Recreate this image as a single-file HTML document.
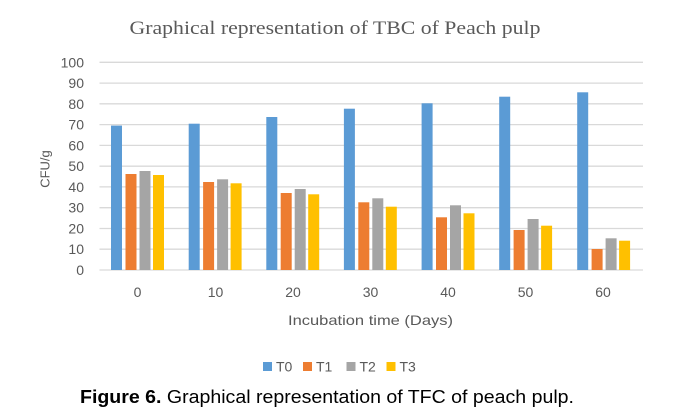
<!DOCTYPE html>
<html><head><meta charset="utf-8"><style>
html,body{margin:0;padding:0;background:#fff;}
svg{display:block;}
</style></head><body>
<svg width="685" height="417" viewBox="0 0 685 417" xmlns="http://www.w3.org/2000/svg">
<rect width="685" height="417" fill="#fff"/>
<text x="335" y="34" text-anchor="middle" font-family="Liberation Serif, serif" font-size="19" fill="#595959" textLength="411" lengthAdjust="spacingAndGlyphs">Graphical representation of TBC of Peach pulp</text>
<g stroke="#d9d9d9" stroke-width="1.3">
<line x1="99.5" x2="643" y1="62.3" y2="62.3"/>
<line x1="99.5" x2="643" y1="83.1" y2="83.1"/>
<line x1="99.5" x2="643" y1="103.8" y2="103.8"/>
<line x1="99.5" x2="643" y1="124.6" y2="124.6"/>
<line x1="99.5" x2="643" y1="145.4" y2="145.4"/>
<line x1="99.5" x2="643" y1="166.2" y2="166.2"/>
<line x1="99.5" x2="643" y1="186.9" y2="186.9"/>
<line x1="99.5" x2="643" y1="207.7" y2="207.7"/>
<line x1="99.5" x2="643" y1="228.5" y2="228.5"/>
<line x1="99.5" x2="643" y1="249.2" y2="249.2"/>
<line x1="99.5" x2="643" y1="270" y2="270"/>
</g>
<g font-family="Liberation Sans, sans-serif" font-size="14" fill="#595959" text-anchor="end">
<text x="84" y="67.3">100</text>
<text x="84" y="88.1">90</text>
<text x="84" y="108.8">80</text>
<text x="84" y="129.6">70</text>
<text x="84" y="150.4">60</text>
<text x="84" y="171.2">50</text>
<text x="84" y="191.9">40</text>
<text x="84" y="212.7">30</text>
<text x="84" y="233.5">20</text>
<text x="84" y="254.2">10</text>
<text x="84" y="275">0</text>
</g>
<text transform="translate(49.5,169) rotate(-90)" text-anchor="middle" font-family="Liberation Sans, sans-serif" font-size="13" fill="#595959">CFU/g</text>
<g font-family="Liberation Sans, sans-serif" font-size="14" fill="#595959" text-anchor="middle">
<text x="137.5" y="297">0</text>
<text x="215.5" y="297">10</text>
<text x="293" y="297">20</text>
<text x="370.5" y="297">30</text>
<text x="448" y="297">40</text>
<text x="525.5" y="297">50</text>
<text x="603" y="297">60</text>
</g>
<text x="370.5" y="325" text-anchor="middle" font-family="Liberation Sans, sans-serif" font-size="14" fill="#595959" textLength="165" lengthAdjust="spacingAndGlyphs">Incubation time (Days)</text>
<g font-family="Liberation Sans, sans-serif" font-size="14" fill="#595959">
<rect x="263" y="362" width="9" height="9" fill="#5B9BD5"/><text x="276" y="371.5">T0</text>
<rect x="303" y="362" width="9" height="9" fill="#ED7D31"/><text x="316" y="371.5">T1</text>
<rect x="346.5" y="362" width="9" height="9" fill="#A5A5A5"/><text x="359.5" y="371.5">T2</text>
<rect x="386.5" y="362" width="9" height="9" fill="#FFC000"/><text x="399.5" y="371.5">T3</text>
</g>
<text x="80" y="403" font-family="Liberation Sans, sans-serif" font-size="18" fill="#000" textLength="494" lengthAdjust="spacingAndGlyphs"><tspan font-weight="bold">Figure 6.</tspan> Graphical representation of TFC of peach pulp.</text>
<g>
<rect x="111" y="125.6" width="11" height="144.4" fill="#5B9BD5"/>
<rect x="125.5" y="174" width="11" height="96" fill="#ED7D31"/>
<rect x="139.5" y="171" width="11" height="99" fill="#A5A5A5"/>
<rect x="153" y="175" width="11" height="95" fill="#FFC000"/>
<rect x="188.7" y="123.7" width="11" height="146.3" fill="#5B9BD5"/>
<rect x="203.1" y="182" width="11" height="88" fill="#ED7D31"/>
<rect x="217.1" y="179.3" width="11" height="90.7" fill="#A5A5A5"/>
<rect x="230.6" y="183.3" width="11" height="86.7" fill="#FFC000"/>
<rect x="266.3" y="117" width="11" height="153" fill="#5B9BD5"/>
<rect x="280.7" y="193" width="11" height="77" fill="#ED7D31"/>
<rect x="294.7" y="189" width="11" height="81" fill="#A5A5A5"/>
<rect x="308.2" y="194.3" width="11" height="75.7" fill="#FFC000"/>
<rect x="343.9" y="108.7" width="11" height="161.3" fill="#5B9BD5"/>
<rect x="358.3" y="202.3" width="11" height="67.7" fill="#ED7D31"/>
<rect x="372.3" y="198.3" width="11" height="71.7" fill="#A5A5A5"/>
<rect x="385.8" y="206.7" width="11" height="63.3" fill="#FFC000"/>
<rect x="421.6" y="103.3" width="11" height="166.7" fill="#5B9BD5"/>
<rect x="436" y="217.3" width="11" height="52.7" fill="#ED7D31"/>
<rect x="450" y="205.3" width="11" height="64.7" fill="#A5A5A5"/>
<rect x="463.5" y="213.3" width="11" height="56.7" fill="#FFC000"/>
<rect x="499.2" y="96.7" width="11" height="173.3" fill="#5B9BD5"/>
<rect x="513.6" y="230" width="11" height="40" fill="#ED7D31"/>
<rect x="527.6" y="219" width="11" height="51" fill="#A5A5A5"/>
<rect x="541.1" y="225.7" width="11" height="44.3" fill="#FFC000"/>
<rect x="577.2" y="92.3" width="11" height="177.7" fill="#5B9BD5"/>
<rect x="591.6" y="249" width="11" height="21" fill="#ED7D31"/>
<rect x="605.6" y="238.3" width="11" height="31.7" fill="#A5A5A5"/>
<rect x="619.1" y="240.7" width="11" height="29.3" fill="#FFC000"/>
</g>
</svg>
</body></html>
